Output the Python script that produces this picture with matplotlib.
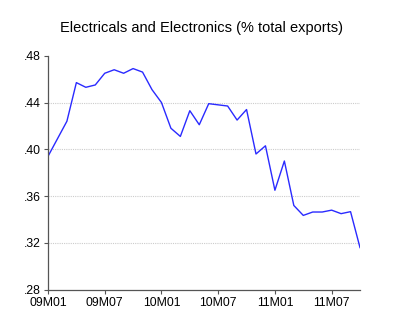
import numpy as np
import matplotlib
matplotlib.use("Agg")
import matplotlib.pyplot as plt
from matplotlib.ticker import FuncFormatter

# monthly share, 2009M01 .. 2011M10
months = [f"{y:02d}M{m:02d}" for y in (9, 10, 11) for m in range(1, 13)][:34]
share = [0.394, 0.409, 0.424, 0.457, 0.453, 0.455, 0.465, 0.468, 0.465, 0.469,
         0.466, 0.451, 0.440, 0.418, 0.411, 0.433, 0.421, 0.439, 0.438, 0.437,
         0.425, 0.434, 0.396, 0.403, 0.365, 0.390, 0.352, 0.3435, 0.3464, 0.3464,
         0.348, 0.345, 0.3467, 0.316]
tick_labels = ["09M01", "09M07", "10M01", "10M07", "11M01", "11M07"]
y_ticks = [0.28, 0.32, 0.36, 0.40, 0.44, 0.48]

plt.rcParams['font.family'] = ['Liberation Sans', 'DejaVu Sans']

fig = plt.figure(figsize=(4, 3.32), dpi=100)
ax = fig.add_axes([0.12, 0.1274, 0.78, 0.7048])

x = np.arange(len(share))
ax.plot(x, share, color='#2a2aff', lw=1.0)

ax.set_xlim(0, len(share) - 1)
ax.set_ylim(0.28, 0.48)
ax.set_yticks(y_ticks)
ax.yaxis.set_major_formatter(FuncFormatter(lambda v, p: f"{v:.2f}".lstrip('0')))
ax.set_xticks([months.index(t) for t in tick_labels])
ax.set_xticklabels(tick_labels)

for v in y_ticks[1:-1]:
    ax.axhline(v, color='#cccccc', lw=0.8, ls=(0, (1, 1)), zorder=0)

for s in ('top', 'right'):
    ax.spines[s].set_visible(False)
for s in ('left', 'bottom'):
    ax.spines[s].set_color('#555555')
    ax.spines[s].set_linewidth(0.9)

ax.tick_params(direction='out', length=3, width=0.8, color='#555555',
               labelsize=8.8, labelcolor='black', pad=2)

fig.text(0.505, 0.916, "Electricals and Electronics (% total exports)",
         ha='center', va='center', fontsize=10.5)

fig.savefig("out.png", dpi=100)
